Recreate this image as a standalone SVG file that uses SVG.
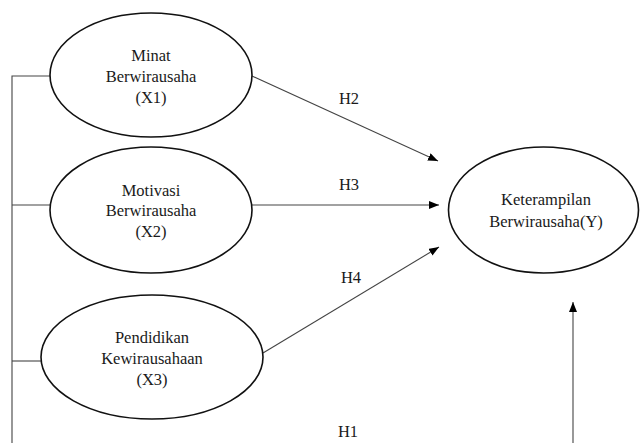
<svg xmlns="http://www.w3.org/2000/svg" width="640" height="443" viewBox="0 0 640 443">
<style>
.node ellipse{fill:#fff;stroke:#111;stroke-width:1.6}
text{font-family:"Liberation Serif","Times New Roman","DejaVu Serif",serif;font-size:16.5px;fill:#1a1a1a;text-anchor:middle}
.edge{stroke:#444;stroke-width:1.1;fill:none}
</style>
<defs>
<marker id="ah" viewBox="0 0 10 8" refX="10" refY="4" markerWidth="10" markerHeight="8" markerUnits="userSpaceOnUse" orient="auto">
<path d="M0,0 L10,4 L0,8 Z" fill="#000"/>
</marker>
</defs>
<g id="connectors">
<polyline class="edge" points="50,76 12,76 12,443"/>
<line class="edge" x1="12" y1="205" x2="50" y2="205"/>
<line class="edge" x1="12" y1="361" x2="42" y2="361"/>
<line class="edge" x1="252" y1="76" x2="438" y2="161" marker-end="url(#ah)"/>
<line class="edge" x1="252" y1="205" x2="439" y2="205" marker-end="url(#ah)"/>
<line class="edge" x1="263" y1="353" x2="439" y2="247" marker-end="url(#ah)"/>
<line class="edge" x1="573" y1="443" x2="573" y2="302" marker-end="url(#ah)"/>
<text x="349" y="104">H2</text>
<text x="349" y="190">H3</text>
<text x="351" y="283">H4</text>
<text x="348" y="437">H1</text>
</g>
<g id="x1" class="node">
<ellipse cx="151" cy="75" rx="101" ry="62"/>
<text x="151" y="61">Minat</text>
<text x="151" y="82">Berwirausaha</text>
<text x="151" y="103">(X1)</text>
</g>
<g id="x2" class="node">
<ellipse cx="151" cy="210" rx="101" ry="63"/>
<text x="151" y="196">Motivasi</text>
<text x="151" y="216">Berwirausaha</text>
<text x="151" y="237">(X2)</text>
</g>
<g id="x3" class="node">
<ellipse cx="152" cy="357" rx="111" ry="62"/>
<text x="152" y="343">Pendidikan</text>
<text x="152" y="364">Kewirausahaan</text>
<text x="152" y="385">(X3)</text>
</g>
<g id="y" class="node">
<ellipse cx="543.5" cy="210" rx="95" ry="63"/>
<text x="546" y="205">Keterampilan</text>
<text x="546" y="227">Berwirausaha(Y)</text>
</g>
</svg>
